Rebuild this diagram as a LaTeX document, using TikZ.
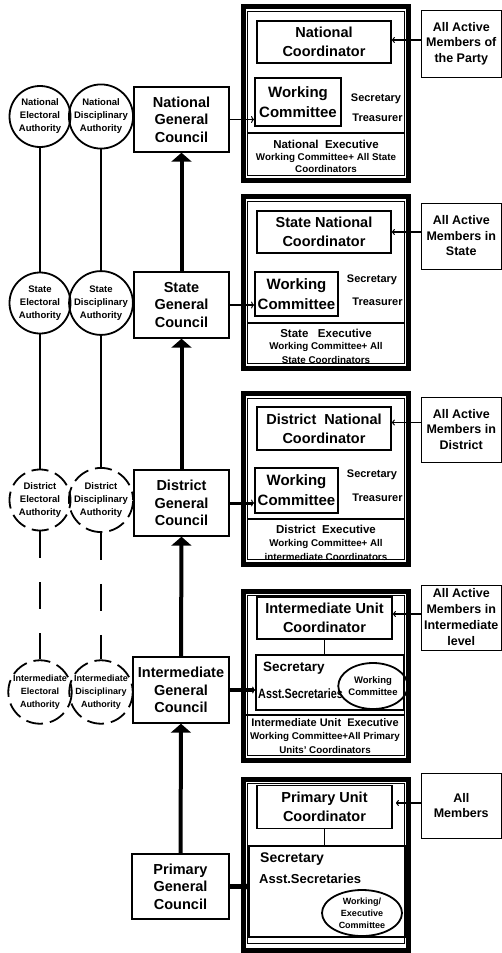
\documentclass[tikz,border=0pt]{standalone}
\usepackage{fontspec}
\setmainfont{Liberation Sans}
\usepackage{graphicx}
\usetikzlibrary{arrows.meta,shapes.geometric}
\newcommand\fz[2]{\fontsize{#1}{#2}\selectfont\bfseries}
\begin{document}
\begin{tikzpicture}[x=1pt,y=-1pt,
  frameouter/.style={line width=5pt},
  frameinner/.style={line width=1pt},
  divline/.style={line width=1.6pt},
  gcbox/.style={draw,line width=1.4pt,minimum width=95pt,minimum height=65pt,inner sep=0pt,align=center,font=\fz{14.5}{17.5}},
  coordbox/.style={draw,line width=1.8pt,minimum width=134pt,minimum height=42pt,inner sep=0pt,align=center,font=\fz{14.5}{19}},
  wcbox/.style={draw,line width=1.8pt,minimum width=84pt,minimum height=46pt,inner sep=0pt,align=center,font=\fz{15}{20}},
  secbox/.style={draw,line width=1.6pt,inner sep=0pt},
  sidebox/.style={draw,line width=1pt,minimum width=80.5pt,minimum height=66pt,inner sep=0pt,align=center,font=\fz{12.5}{15.5}},
  auth/.style={circle,draw,line width=1.8pt,minimum size=61pt,inner sep=0pt,align=center,font=\fz{9.5}{13}},
  dauth/.style={auth,dash pattern=on 17pt off 7pt,dash phase=8.6pt},
  wcell/.style={ellipse,draw,line width=1.8pt,inner sep=0pt,align=center},
  officetext/.style={inner sep=0pt,font=\fz{11}{13}},
  exectitle/.style={inner sep=0pt,font=\fz{11.5}{13}},
  execline/.style={inner sep=0pt,font=\fz{9.8}{11}},
  mainarrow/.style={line width=4pt,-{Triangle[width=20pt,length=9pt]}},
  gcarrow/.style={-{To[length=3pt,width=7pt,line width=1pt]}},
  sidearrow/.style={line width=1.5pt,-{To[length=3pt,width=6pt,line width=1pt]}},
  authline/.style={line width=1.8pt},
]
\fill[white] (0,0) rectangle (502,953);
\useasboundingbox (0,0) rectangle (502,953);

% ---------------- National ----------------
\draw[frameouter] (243,6.5) rectangle (408,180.5);
\draw[frameinner] (247,11.5) rectangle (404,175.5);
\draw[divline] (247,133) -- (404,133);
\node[coordbox] (coordN) at (324,42) {National\\Coordinator};
\node[wcbox,minimum width=86pt,minimum height=48pt] (wcN) at (298,102) {Working\\Committee};
\node[officetext] (secN) at (376,99) {Secretary};
\node[officetext] (treN) at (377.5,118) {Treasurer};
\node[exectitle] (exN) at (326,144) {National\ \ Executive};
\node[execline] (exN2) at (326,158) {Working Committee+ All State};
\node[execline] (exN3) at (326,168.5) {Coordinators};
\node[sidebox,minimum height=67pt] (sideN) at (461.25,43.5) {All Active\\Members of\\the Party};
\node[gcbox] (gcN) at (181.5,119.5) {National\\General\\Council};
\node[auth] (eaN) at (40,116.5) {National\\Electoral\\Authority};
\node[auth] (daN) at (101,116.5) {National\\Disciplinary\\Authority};

% ---------------- State ----------------
\draw[frameouter] (243,196.5) rectangle (408,368);
\draw[frameinner] (247,201.5) rectangle (404,363);
\draw[divline] (247,323) -- (404,323);
\node[coordbox] (coordS) at (324,232) {State National\\Coordinator};
\node[wcbox,minimum width=83pt,minimum height=44pt] (wcS) at (296.5,294) {Working\\Committee};
\node[officetext] (secS) at (372,280) {Secretary};
\node[officetext] (treS) at (377.5,302) {Treasurer};
\node[exectitle] (exS) at (326,333) {State\ \ \ Executive};
\node[execline] (exS2) at (326,347) {Working Committee+ All};
\node[execline] (exS3) at (326,360) {State\ Coordinators};
\node[sidebox] (sideS) at (461.25,236) {All Active\\Members in\\State};
\node[gcbox,minimum height=66pt] (gcS) at (181.5,305) {State\\General\\Council};
\node[auth] (eaS) at (40,303) {State\\Electoral\\Authority};
\node[auth] (daS) at (101,303) {State\\Disciplinary\\Authority};

% ---------------- District ----------------
\draw[frameouter] (243,393.5) rectangle (408,564.5);
\draw[frameinner] (247,398.5) rectangle (404,559.5);
\draw[divline] (247,519) -- (404,519);
\node[coordbox,minimum height=43pt] (coordD) at (324,428.5) {District\ \ National\\Coordinator};
\node[wcbox,minimum width=83pt,minimum height=45pt] (wcD) at (296.5,490.5) {Working\\Committee};
\node[officetext] (secD) at (372,475) {Secretary};
\node[officetext] (treD) at (377.5,498) {Treasurer};
\node[exectitle] (exD) at (326,529) {District\ \ Executive};
\node[execline] (exD2) at (326,544) {Working Committee+ All};
\node[execline] (exD3) at (326,557) {intermediate\ Coordinators};
\node[sidebox,minimum height=65pt] (sideD) at (461.25,429.5) {All Active\\Members in\\District};
\node[gcbox,minimum height=66pt] (gcD) at (181.5,503) {District\\General\\Council};
\node[dauth] (eaD) at (40,500) {District\\Electoral\\Authority};
\node[dauth] (daD) at (101,500) {District\\Disciplinary\\Authority};

% ---------------- Intermediate ----------------
\draw[frameouter] (243,591) rectangle (408,760);
\draw[frameinner] (247,595.5) rectangle (404,755.5);
\node[coordbox,minimum width=135pt] (coordI) at (324.5,618) {Intermediate Unit\\Coordinator};
\node[secbox,minimum width=148pt,minimum height=55pt] (secI) at (330,682.5) {};
\draw[line width=1.8pt] (coordI.south) -- (coordI.south |- secI.north);
\node[inner sep=0pt,anchor=west,font=\fz{13.5}{15}] (secIa) at (263,668) {Secretary};
\node[inner sep=0pt,anchor=west,font=\fz{13.5}{15}] (secIb) at (258,694) {\scalebox{0.8}[1]{Asst.Secretaries}};
\node[wcell,minimum width=60pt,minimum height=46pt,font=\fz{9.5}{12}] (wcI) at (373,686) {Working\\Committee};
\draw[divline] (243,715) -- (404,715);
\node[exectitle,font=\fz{11}{13}] (exI) at (325,723) {Intermediate Unit\ \ Executive};
\node[execline] (exI2) at (325,737) {Working Committee+All Primary};
\node[execline] (exI3) at (325,750) {Units' Coordinators};
\node[sidebox,minimum height=65pt,font=\fz{12.5}{16}] (sideI) at (461.25,617.5) {All Active\\Members in\\Intermediate\\level};
\node[gcbox,minimum width=96pt,minimum height=66pt] (gcI) at (181,690) {Intermediate\\General\\Council};
\node[dauth,font=\fz{9}{13}] (eaI) at (40,692) {Intermediate\\Electoral\\Authority};
\node[dauth,font=\fz{9}{13}] (daI) at (101,692) {Intermediate\\Disciplinary\\Authority};

% ---------------- Primary ----------------
\draw[frameouter] (243,779) rectangle (408,950.5);
\draw[frameinner] (247,783.5) rectangle (404,943);
\node[coordbox,minimum width=135pt,minimum height=43pt] (coordP) at (324.5,807) {Primary Unit\\Coordinator};
\node[secbox,minimum width=156pt,minimum height=91pt] (secP) at (327,891.5) {};
\draw[line width=1.8pt] (coordP.south) -- (coordP.south |- secP.north);
\node[inner sep=0pt,anchor=west,font=\fz{14}{15}] (secPa) at (260,859) {Secretary};
\node[inner sep=0pt,anchor=west,font=\fz{13}{15}] (secPb) at (259,879) {Asst.Secretaries};
\node[wcell,minimum width=80pt,minimum height=46pt,font=\fz{9}{12}] (wcP) at (362,913) {Working/\\Executive\\Committee};
\node[sidebox,minimum height=65pt] (sideP) at (461.25,805.5) {All\\Members};
\node[gcbox,minimum width=97pt] (gcP) at (180.5,886.5) {Primary\\General\\Council};

% ---------------- authority connectors ----------------
\draw[authline] (eaN.south) -- (eaS.north);
\draw[authline] (daN.south) -- (daS.north);
\draw[authline] (eaS.south) -- (eaD.north);
\draw[authline] (daS.south) -- (daD.north);
\draw[authline,dash pattern=on 27pt off 24pt] (eaD.south) -- (eaI.north);
\draw[authline,dash pattern=on 27pt off 24pt] (daD.south) -- (daI.north);

% ---------------- main upward arrows ----------------
\draw[mainarrow] (gcS.north) -- (gcN.south);
\draw[mainarrow] (gcD.north) -- (gcS.south);
\draw[mainarrow] (gcI.north) -- (gcD.south);
\draw[mainarrow] (gcP.north) -- (gcI.south);

% ---------------- council to committee arrows ----------------
\draw[gcarrow,line width=1.5pt] (gcN.east) -- (gcN.east -| wcN.west);
\draw[gcarrow,line width=1.5pt] (gcS.east) -- (gcS.east -| wcS.west);
\draw[gcarrow,line width=3pt] (gcD.east) -- (gcD.east -| wcD.west);
\draw[gcarrow,line width=4.5pt] (gcI.east) -- (gcI.east -| secI.west);
\draw[gcarrow,line width=5pt] (gcP.east) -- (gcP.east -| secP.west);

% ---------------- members to coordinator arrows ----------------
\coordinate (saN) at ([yshift=3.5pt]sideN.west);
\coordinate (saS) at ([yshift=4pt]sideS.west);
\coordinate (saD) at ([yshift=7pt]sideD.west);
\coordinate (saI) at ([yshift=3.5pt]sideI.west);
\coordinate (saP) at ([yshift=2.5pt]sideP.west);
\draw[sidearrow] (saN) -- (saN -| coordN.east);
\draw[sidearrow] (saS) -- (saS -| coordS.east);
\draw[sidearrow] (saD) -- (saD -| coordD.east);
\draw[sidearrow] (saI) -- (saI -| coordI.east);
\draw[sidearrow] (saP) -- ([xshift=3pt]saP -| coordP.east);
\end{tikzpicture}
\end{document}
